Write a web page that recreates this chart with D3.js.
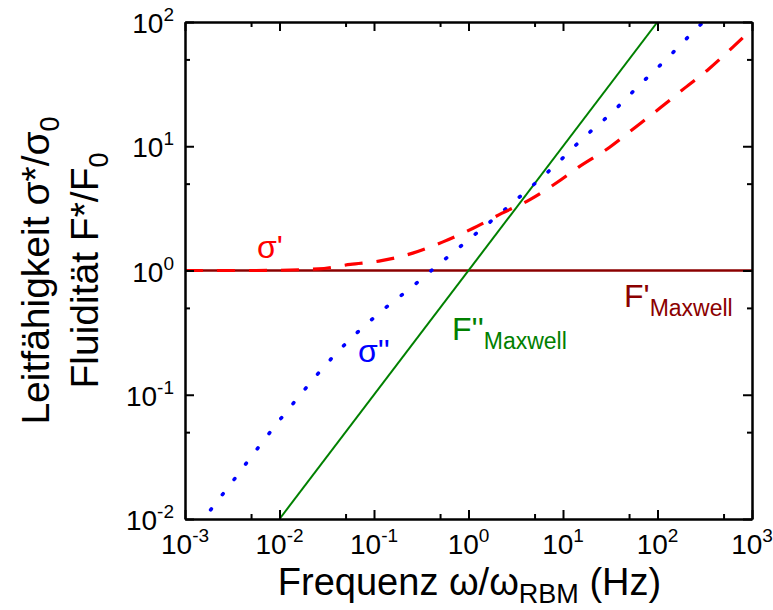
<!DOCTYPE html>
<html>
<head>
<meta charset="utf-8">
<script src="https://cdn.jsdelivr.net/npm/d3@7"></script>
<style>
  html, body { margin: 0; padding: 0; background: #fff; }
  svg { display: block; font-family: Arial, "Liberation Sans", sans-serif; }
</style>
</head>
<body>
<svg id="chart" width="773" height="610"></svg>
<script>
// Frequency axis and value axis decades
const xTickValues = [1e-3, 1e-2, 1e-1, 1e0, 1e1, 1e2, 1e3];
const xTickExponents = ["-3", "-2", "-1", "0", "1", "2", "3"];
const yTickValues = [1e-2, 1e-1, 1e0, 1e1, 1e2];
const yTickExponents = ["-2", "-1", "0", "1", "2"];

// σ' (real part of conductivity)
const sigmaRealFreq = [0.001, 0.0055, 0.0257, 0.0562, 0.120, 0.257, 0.537, 1.12, 2.24, 4.47, 8.71, 14.5, 30.9, 57.5, 107, 195, 347, 631, 1000];
const sigmaRealValue = [1.0, 1.0, 1.03, 1.12, 1.20, 1.38, 1.70, 2.19, 2.88, 3.72, 5.13, 6.76, 9.77, 14.1, 20.4, 29.5, 41.7, 63.1, 88.0];

// σ'' (imaginary part of conductivity)
const sigmaImagFreq = [0.00141, 0.00175, 0.00307, 0.00537, 0.00942, 0.0170, 0.0310, 0.0585, 0.119, 0.247, 0.512, 1.04, 2.10, 4.16, 8.43, 16.3, 33.0, 63.7, 123, 232, 355];
const sigmaImagValue = [0.00891, 0.0111, 0.0193, 0.0339, 0.0589, 0.102, 0.175, 0.289, 0.468, 0.730, 1.16, 1.81, 2.82, 4.41, 7.13, 11.6, 18.7, 30.8, 49.9, 81.5, 112];

// Maxwell fluidity: F' constant, F'' proportional to frequency
const maxwellRealFreq = [0.001, 1000];
const maxwellRealValue = [1, 1];
const maxwellImagFreq = [0.01, 100];
const maxwellImagValue = [0.01, 100];

const svg = d3.select("#chart");
const margin = { left: 185, right: 21, top: 22, bottom: 91 };
const W = 773, H = 610;
const x = d3.scaleLog().domain([1e-3, 1e3]).range([margin.left, W - margin.right]);
const y = d3.scaleLog().domain([1e-2, 1e2]).range([H - margin.bottom, margin.top]);

const minorX = d3.range(-3, 3).map(k => 5 * Math.pow(10, k));
const minorY = d3.range(-2, 2).map(k => 5 * Math.pow(10, k));

svg.append("defs").append("clipPath").attr("id", "plotClip")
  .append("rect")
  .attr("x", x.range()[0]).attr("y", y.range()[1])
  .attr("width", x.range()[1] - x.range()[0])
  .attr("height", y.range()[0] - y.range()[1]);

const plot = svg.append("g").attr("clip-path", "url(#plotClip)");

const toPts = (fs, vs) => fs.map((f, i) => [f, vs[i]]);
const line = d3.line().x(d => x(d[0])).y(d => y(d[1]));
const smooth = d3.line().x(d => x(d[0])).y(d => y(d[1])).curve(d3.curveMonotoneX);

// F'_Maxwell
plot.append("path")
  .attr("d", line(toPts(maxwellRealFreq, maxwellRealValue)))
  .attr("fill", "none").attr("stroke", "#8b0000").attr("stroke-width", 2.5);

// F''_Maxwell
plot.append("path")
  .attr("d", line(toPts(maxwellImagFreq, maxwellImagValue)))
  .attr("fill", "none").attr("stroke", "#008000").attr("stroke-width", 2);

// σ''
plot.append("path")
  .attr("d", smooth(toPts(sigmaImagFreq, sigmaImagValue)))
  .attr("fill", "none").attr("stroke", "#0000ff").attr("stroke-width", 3.6)
  .attr("stroke-linecap", "round").attr("stroke-dasharray", "1.2,18");

// σ'
plot.append("path")
  .attr("d", smooth(toPts(sigmaRealFreq, sigmaRealValue)))
  .attr("fill", "none").attr("stroke", "#ff0000").attr("stroke-width", 3.2)
  .attr("stroke-dasharray", "18,14");

// Axes: major and minor ticks pointing inward on all four sides
const axisG = svg.append("g").attr("class", "axes");
function addAxis(axis, transform) {
  const g = axisG.append("g").attr("transform", transform).call(axis);
  g.selectAll("text").remove();
  g.select(".domain").attr("stroke", "#000").attr("stroke-width", 2);
  g.selectAll(".tick line").attr("stroke", "#000").attr("stroke-width", 2);
  return g;
}
const yB = y.range()[0], yT = y.range()[1], xL = x.range()[0], xR = x.range()[1];
addAxis(d3.axisBottom(x).tickValues(xTickValues).tickSize(-9).tickSizeOuter(0), `translate(0,${yB})`);
addAxis(d3.axisBottom(x).tickValues(minorX).tickSize(-5).tickSizeOuter(0), `translate(0,${yB})`);
addAxis(d3.axisTop(x).tickValues(xTickValues).tickSize(-9).tickSizeOuter(0), `translate(0,${yT})`);
addAxis(d3.axisTop(x).tickValues(minorX).tickSize(-5).tickSizeOuter(0), `translate(0,${yT})`);
addAxis(d3.axisLeft(y).tickValues(yTickValues).tickSize(-9).tickSizeOuter(0), `translate(${xL},0)`);
addAxis(d3.axisLeft(y).tickValues(minorY).tickSize(-5).tickSizeOuter(0), `translate(${xL},0)`);
addAxis(d3.axisRight(y).tickValues(yTickValues).tickSize(-9).tickSizeOuter(0), `translate(${xR},0)`);
addAxis(d3.axisRight(y).tickValues(minorY).tickSize(-5).tickSizeOuter(0), `translate(${xR},0)`);

// Tick labels written as powers of ten
const tickFont = 28, supFont = 19;
xTickValues.forEach((v, i) => {
  const t = svg.append("text")
    .attr("x", x(v)).attr("y", yB + 35)
    .attr("text-anchor", "middle")
    .attr("font-size", tickFont).attr("fill", "#000");
  t.append("tspan").text("10");
  t.append("tspan").attr("dy", -12).attr("font-size", supFont).text(xTickExponents[i]);
});
yTickValues.forEach((v, i) => {
  const t = svg.append("text")
    .attr("x", xL - 11).attr("y", y(v) + 11)
    .attr("text-anchor", "end")
    .attr("font-size", tickFont).attr("fill", "#000");
  t.append("tspan").text("10");
  t.append("tspan").attr("dy", -12).attr("font-size", supFont).text(yTickExponents[i]);
});

// Axis titles
const titleFont = 38, titleSub = 27;
const xt = svg.append("text")
  .attr("x", (xL + xR) / 2 + 1).attr("y", 595)
  .attr("text-anchor", "middle").attr("font-size", titleFont).attr("fill", "#000");
xt.append("tspan").text("Frequenz ω/ω");
xt.append("tspan").attr("dy", 8).attr("font-size", titleSub).text("RBM");
xt.append("tspan").attr("dy", -8).text(" (Hz)");

const yt1 = svg.append("text")
  .attr("transform", `translate(49,${(yT + yB) / 2}) rotate(-90)`)
  .attr("text-anchor", "middle").attr("font-size", 39).attr("fill", "#000");
yt1.append("tspan").text("Leitfähigkeit σ*/σ");
yt1.append("tspan").attr("dy", 10).attr("font-size", titleSub).text("0");

const yt2 = svg.append("text")
  .attr("transform", `translate(98,${(yT + yB) / 2}) rotate(-90)`)
  .attr("text-anchor", "middle").attr("font-size", 39).attr("fill", "#000");
yt2.append("tspan").text("Fluidität F*/F");
yt2.append("tspan").attr("dy", 10).attr("font-size", titleSub).text("0");

// Curve labels
const labFont = 32, labSub = 23;
function label(px, py, main, sub, color) {
  const t = svg.append("text").attr("x", px).attr("y", py)
    .attr("font-size", labFont).attr("fill", color);
  t.append("tspan").text(main);
  if (sub) t.append("tspan").attr("dy", 9).attr("font-size", labSub).text(sub);
}
label(257, 258, "σ'", null, "#ff0000");
label(358, 362, "σ''", null, "#0000ff");
label(452, 340, "F''", "Maxwell", "#008000");
label(624, 307, "F'", "Maxwell", "#8b0000");
</script>
</body>
</html>
